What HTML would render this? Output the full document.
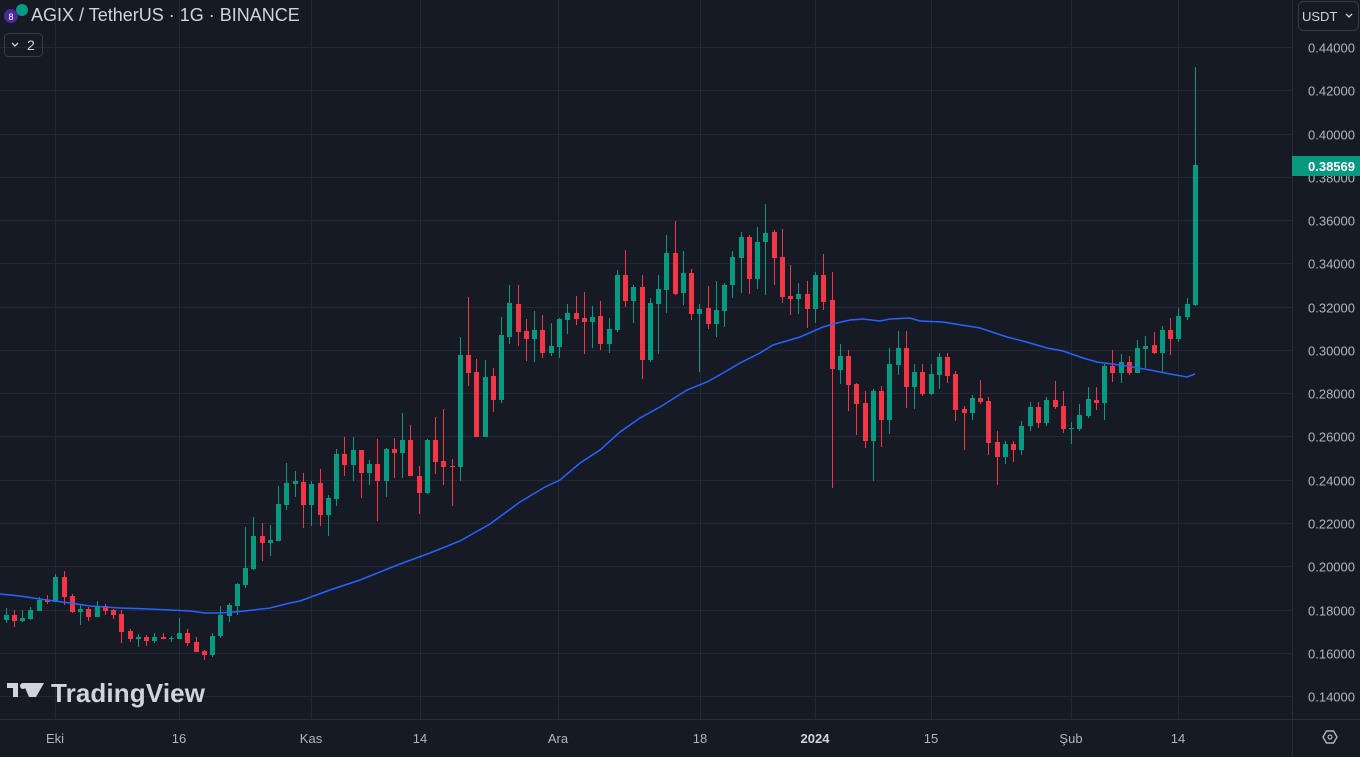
<!DOCTYPE html>
<html><head><meta charset="utf-8"><style>
html,body{margin:0;padding:0;background:#161a25;width:1360px;height:757px;overflow:hidden;font-family:"Liberation Sans",sans-serif}
svg{position:absolute;left:0;top:0}
</style></head><body>
<svg id="s" width="1360" height="757" xmlns="http://www.w3.org/2000/svg">
<rect width="1360" height="757" fill="#161a25"/>
<g id="grid" stroke="#242833" stroke-width="1"></g>
<g id="candles"></g>
<polyline id="ma" fill="none" stroke="#2962ff" stroke-width="1.5" points=""/>
<line x1="1292.5" y1="0" x2="1292.5" y2="757" stroke="#2a2e39"/>
<line x1="0" y1="719.5" x2="1360" y2="719.5" stroke="#2a2e39"/>
<g id="ptext" fill="#b2b5be" font-size="13" text-anchor="end"></g>
<g fill="#b2b5be" font-size="13" text-anchor="middle">
<text x="55" y="743">Eki</text><text x="179" y="743">16</text><text x="311" y="743">Kas</text>
<text x="420" y="743">14</text><text x="558" y="743">Ara</text><text x="700" y="743">18</text>
<text x="815" y="743" font-weight="bold" fill="#d1d4dc">2024</text><text x="931" y="743">15</text>
<text x="1071" y="743">Şub</text><text x="1178" y="743">14</text>
</g>
<rect x="1292" y="156" width="68" height="20" fill="#089981"/>
<text x="1355" y="171" fill="#ffffff" font-size="13" font-weight="bold" text-anchor="end">0.38569</text>
<rect x="1298.5" y="1.5" width="60" height="29" rx="5" fill="#161a25" stroke="#363a45"/>
<text x="1302" y="21" fill="#d1d4dc" font-size="13">USDT</text>
<path d="M1346 14 l3 3 l3 -3" stroke="#d1d4dc" fill="none" stroke-width="1.3"/>
<path d="M1323 737 l3.5 -6 h7 l3.5 6 l-3.5 6 h-7 z" fill="none" stroke="#b2b5be" stroke-width="1.4"/>
<circle cx="1330" cy="737" r="2" fill="none" stroke="#b2b5be" stroke-width="1.2"/>
<circle cx="22" cy="10" r="6" fill="#089981"/>
<circle cx="11" cy="16" r="7" fill="#4a2a9a"/>
<text x="11" y="20" fill="#fff" font-size="9" text-anchor="middle">8</text>
<text x="31" y="21" fill="#d1d4dc" font-size="18">AGIX / TetherUS · 1G · BINANCE</text>
<rect x="4.5" y="33.5" width="38" height="23" rx="4" fill="none" stroke="#363a45"/>
<path d="M12 43 l3 3 l3 -3" stroke="#d1d4dc" fill="none" stroke-width="1.3"/>
<text x="27" y="50" fill="#d1d4dc" font-size="14">2</text>
<g fill="#d1d4dc">
<rect x="7" y="683" width="11" height="5"/><rect x="13" y="683" width="5" height="14"/>
<path d="M23 683 h21 l-8 14 h-7 z"/><circle cx="23" cy="686" r="3"/>
</g>
<text x="51" y="702" fill="#d1d4dc" font-size="26" font-weight="bold" textLength="154">TradingView</text>
</svg>
<script>
var D=[[6,620,615,608,623],[14,615,621,610,627],[22,621,618,610,622],[30,619,610,607,620],[39,611,600,597,611],[47,600,602,595,604],[55,602,577,574,602],[64,577,597,571,605],[72,596,612,594,613],[80,612,609,604,625],[88,609,617,607,621],[97,617,606,601,617],[105,606,611,604,615],[113,610,615,609,619],[121,614,632,610,643],[130,631,639,629,642],[138,639,637,634,647],[146,637,641,635,646],[154,641,637,633,643],[163,637,639,633,639],[171,639,638,636,642],[179,639,633,618,639],[187,633,643,629,646],[196,642,652,637,652],[204,651,655,650,660],[212,655,636,633,657],[220,636,615,606,638],[229,616,605,603,622],[237,606,584,583,615],[245,585,568,527,588],[253,569,536,517,570],[262,536,543,523,561],[270,543,540,525,556],[278,541,504,486,541],[286,505,483,463,510],[295,484,481,471,497],
[303,482,505,473,528],[311,505,484,481,526],[320,483,515,469,526],[328,515,498,495,536],[336,499,454,449,506],[344,454,465,437,476],[353,465,450,437,481],[361,450,473,450,498],[369,473,464,460,485],[377,464,481,439,521],[386,481,449,448,497],[394,449,453,438,478],[402,453,440,413,478],[410,440,476,425,476],[419,476,493,466,514],[427,493,440,439,494],[435,440,462,417,474],[443,461,467,409,485],[452,466,467,459,506],[460,467,355,337,481],[468,355,373,297,386],[476,372,437,359,437],[485,437,377,360,437],[493,376,400,368,412],[501,400,335,317,403],[509,337,303,285,344],[518,304,332,285,346],[526,331,339,319,361],[534,339,330,311,362],[542,330,353,315,358],[551,353,346,323,356],[559,347,319,318,358],[567,320,313,304,334],
[576,313,319,296,325],[584,318,322,292,354],[592,322,317,306,348],[600,316,344,301,350],[609,344,329,318,353],[617,330,275,270,332],[625,275,301,250,307],[633,301,287,285,323],[642,287,360,275,379],[650,360,303,298,362],[658,304,289,275,354],[666,290,253,235,313],[675,253,294,221,295],[683,293,273,251,305],[691,273,314,269,320],[699,314,309,304,372],[708,308,324,286,329],[716,324,310,281,337],[724,311,285,283,327],[732,285,257,251,298],[741,258,237,232,293],[749,237,279,235,294],[757,279,242,227,289],[765,242,233,204,295],[774,232,258,230,285],[782,257,297,229,303],[790,296,299,265,315],[798,299,294,283,314],[807,294,309,281,328],[815,309,275,272,323],[823,275,302,254,310],[832,300,369,272,488],[840,370,356,344,384],[848,356,385,350,411],
[856,384,404,383,435],[865,403,441,391,448],[873,441,391,389,481],[881,391,420,386,447],[889,420,364,348,434],[898,365,348,331,375],[906,348,387,331,408],[914,387,372,364,409],[922,372,394,364,396],[931,394,374,364,395],[939,375,357,353,389],[947,357,376,353,383],[955,374,410,371,421],[964,409,413,406,450],[972,413,398,395,420],[980,398,402,380,404],[988,401,443,397,455],[997,442,457,431,485],[1005,457,444,441,464],[1013,444,450,441,462],[1021,450,426,421,455],[1030,426,407,402,431],[1038,407,423,402,428],[1046,423,400,397,426],[1055,400,407,381,409],[1063,406,429,391,433],[1071,429,428,422,444],[1079,429,415,404,431],[1088,416,399,387,418],[1096,400,403,387,410],[1104,403,366,364,420],[1112,366,373,350,382],[1121,373,362,354,383],[1129,362,373,356,375],[1137,373,348,340,373],[1145,349,346,336,368],[1154,345,353,332,354],[1162,353,330,326,372],[1170,330,339,318,355],[1178,339,316,308,342],[1187,317,304,298,320],[1195,305,165,67,306]];
var g=document.getElementById("candles"),h="";
D.forEach(function(d){var x=d[0],o=d[1],c=d[2],up=c<=o,col=up?"#089981":"#f23645";var t=Math.min(o,c),b=Math.max(o,c);if(b-t<1)b=t+1;
h+='<line x1="'+(x+0.5)+'" x2="'+(x+0.5)+'" y1="'+d[3]+'" y2="'+d[4]+'" stroke="'+col+'"/>';
h+='<rect x="'+(x-2)+'" y="'+t+'" width="5" height="'+(b-t)+'" fill="'+col+'"/>';});
g.innerHTML=h;
var gr="",pt="";
for(var i=0;i<16;i++){var y=Math.round(47+i*43.27)+0.5;gr+='<line x1="0" x2="1292" y1="'+y+'" y2="'+y+'"/>';
pt+='<text x="1355" y="'+(y+5)+'">'+(0.44-i*0.02).toFixed(5)+'</text>';}
[55,179,311,420,558,700,815,931,1071,1178].forEach(function(x){gr+='<line x1="'+(x+0.5)+'" x2="'+(x+0.5)+'" y1="0" y2="719"/>';});
document.getElementById("grid").innerHTML=gr;document.getElementById("ptext").innerHTML=pt;
document.getElementById("ma").setAttribute("points","0,594 20,596 40,599 70,603 90,606 120,608 150,609 170,610 190,611 205,613 220,613 245,611 270,608 290,603 300,601 330,590 360,580 400,564 430,553 460,541 490,524 520,502 545,487 560,480 580,463 600,450 620,432 640,418 660,407 687,390 707,382 723,373 740,363 760,353 773,345 800,337 823,327 837,323 850,320 863,319 880,321 890,319 910,318 920,321 943,322 980,328 1007,337 1023,341 1047,348 1063,351 1083,358 1097,362 1127,366 1150,370 1170,374 1187,377 1195,374");
</script>
</body></html>
